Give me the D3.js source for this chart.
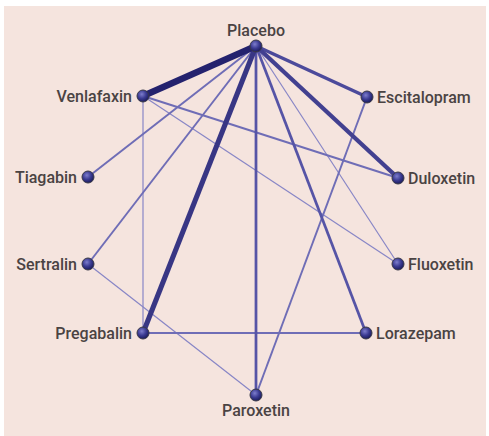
<!DOCTYPE html>
<html>
<head>
<meta charset="utf-8">
<script src="https://cdn.jsdelivr.net/npm/d3@7"></script>
<style>
  body { margin: 0; background: #fff; }
  text { font-family: Roboto, "Open Sans", sans-serif; font-weight: 500; }
</style>
</head>
<body>
<div id="network"></div>
<script>
// treatments and their hand-made layout (graph units, not pixels)
var names   = ["Placebo", "Venlafaxin", "Escitalopram", "Tiagabin", "Duloxetin",
               "Sertralin", "Fluoxetin", "Pregabalin", "Lorazepam", "Paroxetin"];
var layoutX = [0, -113, 111, -168, 142, -168, 142, -113, 110, 0];
var layoutY = [-174, -124, -123, -43, -42, 44, 44, 113, 113, 175];
var labelSide = ["top", "left", "right", "left", "right", "left", "right", "left", "right", "bottom"];

// direct comparisons: source, target, number of trials
var edgeFrom = ["Placebo", "Placebo", "Placebo", "Placebo", "Placebo", "Placebo", "Placebo", "Placebo", "Placebo",
                "Venlafaxin", "Venlafaxin", "Venlafaxin", "Escitalopram", "Sertralin", "Pregabalin"];
var edgeTo   = ["Venlafaxin", "Pregabalin", "Duloxetin", "Escitalopram", "Paroxetin", "Lorazepam", "Tiagabin", "Sertralin", "Fluoxetin",
                "Duloxetin", "Fluoxetin", "Pregabalin", "Paroxetin", "Paroxetin", "Lorazepam"];
var trials   = [8, 6, 5, 4, 3, 3, 2, 2, 1,
                2, 1, 1, 2, 1, 2];

var W = 489, H = 436;

var svg = d3.select("#network").append("svg")
    .attr("width", W)
    .attr("height", H);

svg.append("rect")
    .attr("x", 4).attr("y", 6)
    .attr("width", 482).attr("height", 430)
    .attr("fill", "#f5e4de");

var x = d3.scaleLinear().domain([-168, 142]).range([88, 398]);
var y = d3.scaleLinear().domain([-174, 175]).range([46, 395]);

var width = d3.scaleLinear().domain([1, 8]).range([1.2, 6.6]);
var color = d3.scaleLinear().domain([1, 3, 8]).range(["#8886c6", "#5654a6", "#24226e"]);

var defs = svg.append("defs");
var grad = defs.append("radialGradient")
    .attr("id", "ball")
    .attr("cx", "40%").attr("cy", "35%").attr("r", "65%");
grad.append("stop").attr("offset", "0%").attr("stop-color", "#7d7dcc");
grad.append("stop").attr("offset", "55%").attr("stop-color", "#3b3b92");
grad.append("stop").attr("offset", "100%").attr("stop-color", "#1c1c5c");

var nodes = names.map(function(n, i) {
    return { name: n, x: x(layoutX[i]), y: y(layoutY[i]), side: labelSide[i] };
});
var byName = {};
nodes.forEach(function(d) { byName[d.name] = d; });

var edges = trials.map(function(t, i) {
    return { s: byName[edgeFrom[i]], t: byName[edgeTo[i]], n: t };
});
// thin ones first so thick lines sit on top
edges.sort(function(a, b) { return a.n - b.n; });

svg.append("g").selectAll("line")
    .data(edges)
    .enter().append("line")
    .attr("x1", function(d) { return d.s.x; })
    .attr("y1", function(d) { return d.s.y; })
    .attr("x2", function(d) { return d.t.x; })
    .attr("y2", function(d) { return d.t.y; })
    .attr("stroke", function(d) { return color(d.n); })
    .attr("stroke-width", function(d) { return width(d.n); });

var node = svg.append("g").selectAll("g")
    .data(nodes)
    .enter().append("g")
    .attr("transform", function(d) { return "translate(" + d.x + "," + d.y + ")"; });

node.append("circle")
    .attr("r", 6)
    .attr("fill", "url(#ball)")
    .attr("stroke", "#3a3a48")
    .attr("stroke-width", 1);

node.append("text")
    .attr("fill", "#4a4343")
    .attr("font-size", 16)
    .attr("text-anchor", function(d) {
        return d.side == "left" ? "end" : d.side == "right" ? "start" : "middle";
    })
    .attr("x", function(d) { return d.side == "left" ? -11 : d.side == "right" ? 10 : 0; })
    .attr("y", function(d) { return d.side == "top" ? -10 : d.side == "bottom" ? 21 : 5.5; })
    .text(function(d) { return d.name; });
</script>
</body>
</html>
